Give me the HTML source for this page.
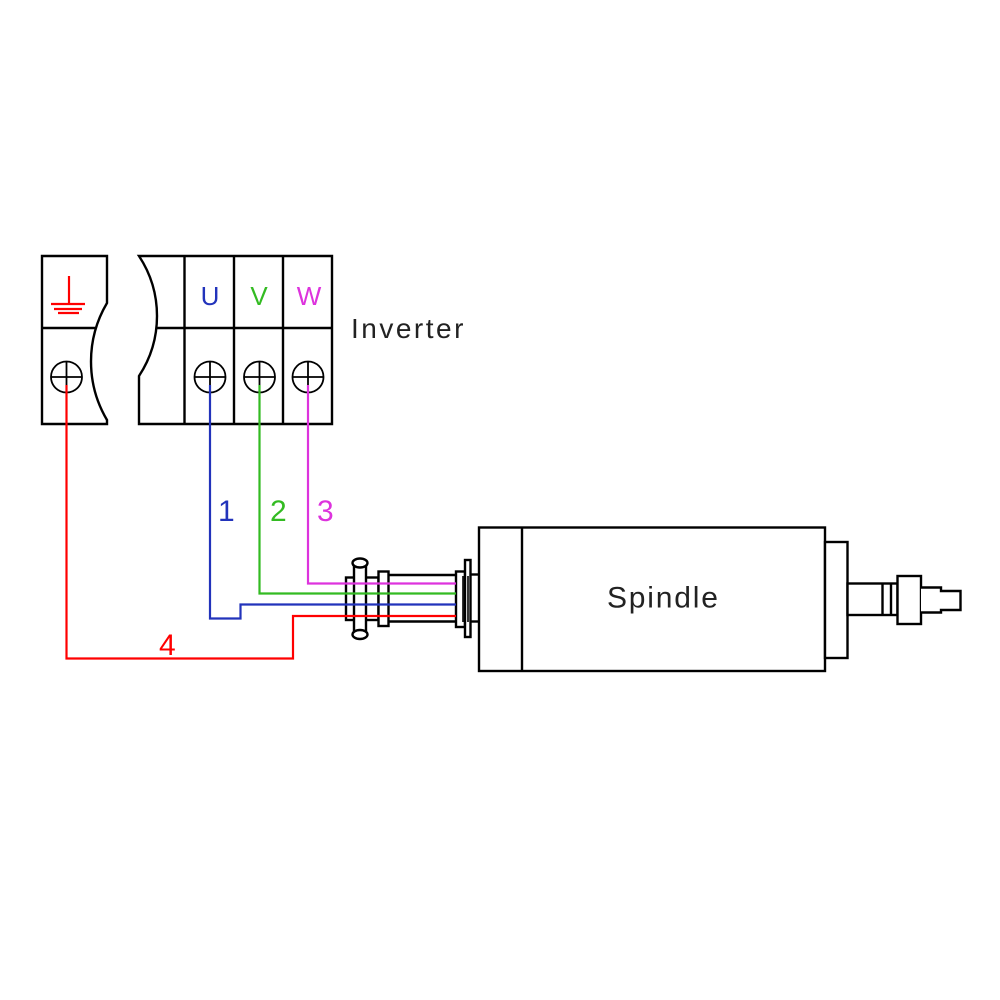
<!DOCTYPE html>
<html><head><meta charset="utf-8"><style>
html,body{margin:0;padding:0;background:#fff;}
svg{display:block;}
text{font-family:"Liberation Sans",sans-serif;}
</style></head><body>
<svg width="1000" height="1000" viewBox="0 0 1000 1000" xmlns="http://www.w3.org/2000/svg">
<rect width="1000" height="1000" fill="#fff"/>
<g fill="none" stroke="#000" stroke-width="2.4">
  <!-- left block -->
  <path d="M42,256 H107 V303 A115,115 0 0 0 107,420 V424 H42 Z" fill="#fff"/>
  <line x1="42" y1="328" x2="96" y2="328"/>
  <!-- right block -->
  <path d="M139,256 A109,109 0 0 1 139,376 V424 H332 V256 Z" fill="#fff"/>
  <line x1="156" y1="328" x2="332" y2="328"/>
  <line x1="184.5" y1="256" x2="184.5" y2="424"/>
  <line x1="234" y1="256" x2="234" y2="424"/>
  <line x1="283" y1="256" x2="283" y2="424"/>
  <!-- screws -->
  <g stroke-width="1.8">
    <circle cx="66.5" cy="377" r="15.5"/>
    <line x1="51" y1="377" x2="82" y2="377"/><line x1="66.5" y1="361.5" x2="66.5" y2="392.5"/>
    <circle cx="210" cy="377" r="15.5"/>
    <line x1="194.5" y1="377" x2="225.5" y2="377"/><line x1="210" y1="361.5" x2="210" y2="392.5"/>
    <circle cx="259.5" cy="377" r="15.5"/>
    <line x1="244" y1="377" x2="275" y2="377"/><line x1="259.5" y1="361.5" x2="259.5" y2="392.5"/>
    <circle cx="308" cy="377" r="15.5"/>
    <line x1="292.5" y1="377" x2="323.5" y2="377"/><line x1="308" y1="361.5" x2="308" y2="392.5"/>
  </g>
</g>
<!-- ground symbol -->
<g stroke="#f00" stroke-width="2.2">
  <line x1="69" y1="276" x2="69" y2="304"/>
  <line x1="51" y1="304" x2="85" y2="304"/>
  <line x1="54" y1="309" x2="82" y2="309"/>
  <line x1="58" y1="313" x2="79" y2="313"/>
</g>
<text x="210" y="305" font-size="26" fill="#2233bb" text-anchor="middle">U</text>
<text x="259" y="305" font-size="26" fill="#33bb22" text-anchor="middle">V</text>
<text x="309" y="305" font-size="26" fill="#dd33dd" text-anchor="middle">W</text>
<text x="351" y="338" font-size="28" fill="#222" letter-spacing="2.5">Inverter</text>

<!-- connector -->
<g fill="#fff" stroke="#000" stroke-width="2.4">
  <rect x="346" y="577.5" width="32.5" height="42.5"/>
  <rect x="354" y="566" width="12" height="65"/>
  <ellipse cx="360" cy="563" rx="7.5" ry="4.5"/>
  <ellipse cx="360" cy="634.5" rx="7.5" ry="4.5"/>
  <rect x="378.5" y="571.5" width="10" height="54.5"/>
  <line x1="388.5" y1="575" x2="456" y2="575"/>
  <line x1="388.5" y1="621.5" x2="456" y2="621.5"/>
  <rect x="456" y="571.5" width="9" height="55.5"/>
  <line x1="463" y1="576" x2="463" y2="622" stroke-width="1.6"/>
  <rect x="465" y="560" width="5.5" height="77"/>
  <line x1="468" y1="576" x2="468" y2="622" stroke-width="1.6"/>
  <line x1="470.5" y1="574.5" x2="479" y2="574.5"/>
  <line x1="470.5" y1="621.5" x2="479" y2="621.5"/>
</g>

<!-- spindle -->
<g fill="#fff" stroke="#000" stroke-width="2.4">
  <rect x="479" y="527.5" width="346" height="143.5"/>
  <line x1="522" y1="527.5" x2="522" y2="671"/>
  <rect x="825" y="542" width="22.5" height="116"/>
  <rect x="847.5" y="583.5" width="50" height="31.5"/>
  <line x1="882.5" y1="583.5" x2="882.5" y2="615"/>
  <line x1="891" y1="583.5" x2="891" y2="615"/>
  <rect x="897.5" y="576" width="23.5" height="48"/>
  <path d="M921,587.5 H941 V591 H960.5 V610 H941 V612.5 H921"/>
</g>
<text x="607" y="607.5" font-size="30" fill="#222" letter-spacing="1.8">Spindle</text>

<!-- wires -->
<g fill="none" stroke-width="2.2">
  <path d="M308,385 V583.5 H456" stroke="#dd33dd"/>
  <path d="M259.5,385 V593.5 H456" stroke="#33bb22"/>
  <path d="M210,385 V618.5 H240.5 V604.5 H456" stroke="#2233bb"/>
  <path d="M66.5,385 V658.5 H293 V616 H456" stroke="#ff0000"/>
</g>
<text x="218" y="521" font-size="30" fill="#2233bb">1</text>
<text x="270" y="521" font-size="30" fill="#33bb22">2</text>
<text x="317" y="521" font-size="30" fill="#dd33dd">3</text>
<text x="159" y="655" font-size="30" fill="#ff0000">4</text>
</svg>
</body></html>
